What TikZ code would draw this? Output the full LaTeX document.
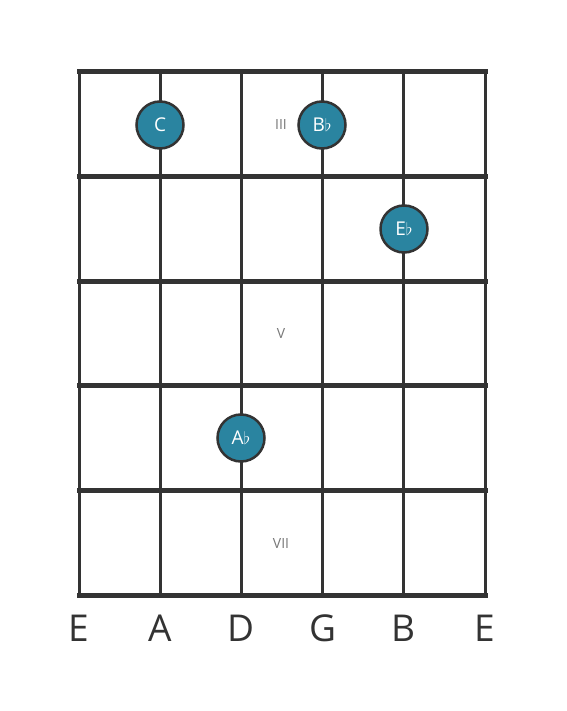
\documentclass[tikz,border=0pt]{standalone}
\usepackage{fontspec}
\setmainfont{Open Sans}
\usepackage{tikz}
\definecolor{boardGray}{HTML}{333333}
\definecolor{noteTeal}{HTML}{2A84A0}
\definecolor{fretGray}{HTML}{777777}
\tikzset{
  fretline/.style={boardGray, line width=5pt},
  stringline/.style={boardGray, line width=3pt},
  notedot/.style={circle, fill=noteTeal, draw=boardGray, line width=2.5pt,
    minimum size=47pt, inner sep=0pt, text=white, font=\fontsize{19}{19}\selectfont},
  fretnum/.style={fretGray, font=\fontsize{14}{14}\selectfont},
  stringname/.style={boardGray, font=\fontsize{37}{37}\selectfont}
}
\def\strgap{81.2}
\def\fretgap{104.6}
\begin{document}
\begin{tikzpicture}[x=1pt, y=-1pt, line cap=rect]
  \useasboundingbox (0,0) rectangle (566,711);

  % strings
  \foreach \s in {0,...,5}
    \draw[stringline] (79+\s*\strgap, 72) -- (79+\s*\strgap, 595);
  % frets
  \foreach \f in {0,...,5}
    \draw[fretline] (79, 72+\f*\fretgap) -- (485, 72+\f*\fretgap);

  % fret markers
  \node[fretnum] (fIII) at (281, 125) {III};
  \node[fretnum] (fV) at (281, 334) {V};
  \node[fretnum] (fVII) at (281, 543) {VII};

  % notes
  \node[notedot] (nC) at (160, 125) {C};
  \node[notedot] (nBb) at (322, 125) {B$\flat$};
  \node[notedot] (nEb) at (404, 229) {E$\flat$};
  \node[notedot] (nAb) at (241, 438) {A$\flat$};

  % string names
  \foreach \n [count=\i from 0] in {E,A,D,G,B,E}
    \node[stringname] (str\i) at (79+\i*\strgap, 628) {\n};
\end{tikzpicture}
\end{document}
